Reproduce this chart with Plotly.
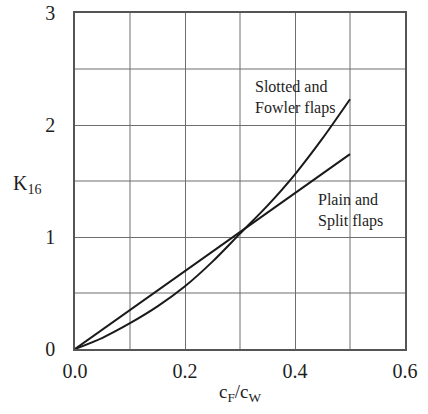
import plotly.graph_objects as go

x_plain = [0.0, 0.5]
y_plain = [0.0, 1.74]

x_slot = [0.0, 0.05, 0.1, 0.15, 0.2, 0.25, 0.3, 0.35, 0.4, 0.45, 0.5]
y_slot = [0.0, 0.1, 0.23, 0.38, 0.56, 0.78, 1.03, 1.28, 1.56, 1.88, 2.23]

x_ticks = [0.0, 0.2, 0.4, 0.6]
x_tick_text = ["0.0", "0.2", "0.4", "0.6"]
y_ticks = [0, 1, 2, 3]

FONT = "Liberation Serif, Times New Roman, serif"
TXT = "#1e1e1e"
GRID = "#6e6e6e"

fig = go.Figure()
fig.add_trace(go.Scatter(x=x_slot, y=y_slot, mode="lines",
                         line=dict(color="#1a1a1a", width=2, shape="spline", smoothing=0.8),
                         showlegend=False, hoverinfo="skip"))
fig.add_trace(go.Scatter(x=x_plain, y=y_plain, mode="lines",
                         line=dict(color="#1a1a1a", width=2),
                         showlegend=False, hoverinfo="skip"))

fig.add_annotation(x=0.4, y=2.25, text="Slotted and<br>Fowler flaps",
                   showarrow=False, xanchor="center", yanchor="middle", align="left",
                   font=dict(family=FONT, size=16, color=TXT))
fig.add_annotation(x=0.5, y=1.24, text="Plain and<br>Split flaps",
                   showarrow=False, xanchor="center", yanchor="middle", align="left",
                   font=dict(family=FONT, size=16, color=TXT))
fig.add_annotation(xref="paper", yref="y", x=-0.145, y=1.47,
                   text="K<sub>16</sub>", showarrow=False,
                   xanchor="center", yanchor="middle",
                   font=dict(family=FONT, size=20, color=TXT))
fig.add_annotation(xref="x", yref="paper", x=0.3, y=-0.131,
                   text="c<sub>F</sub>/c<sub>W</sub>", showarrow=False,
                   xanchor="center", yanchor="middle",
                   font=dict(family=FONT, size=19, color=TXT))

fig.update_xaxes(range=[0, 0.6], tickvals=x_ticks, ticktext=x_tick_text,
                 showgrid=True, gridcolor=GRID, gridwidth=1,
                 showline=True, linecolor="#555", linewidth=1.5, mirror=True,
                 ticks="outside", ticklen=3, tickcolor="rgba(0,0,0,0)",
                 zeroline=False, automargin=False, ticklabeloverflow="allow",
                 tickfont=dict(family=FONT, size=20, color=TXT))
fig.update_yaxes(range=[0, 3], tickvals=y_ticks,
                 showgrid=True, gridcolor=GRID, gridwidth=1,
                 showline=True, linecolor="#555", linewidth=1.5, mirror=True,
                 ticks="outside", ticklen=14, tickcolor="rgba(0,0,0,0)",
                 zeroline=False, automargin=False, ticklabeloverflow="allow",
                 tickfont=dict(family=FONT, size=20, color=TXT))

# intermediate grid lines at 0.1 and 0.5 spacing
for gx in [0.1, 0.3, 0.5]:
    fig.add_shape(type="line", x0=gx, x1=gx, y0=0, y1=3, xref="x", yref="y",
                  line=dict(color=GRID, width=1), layer="below")
for gy in [0.5, 1.5, 2.5]:
    fig.add_shape(type="line", x0=0, x1=0.6, y0=gy, y1=gy, xref="x", yref="y",
                  line=dict(color=GRID, width=1), layer="below")

fig.update_layout(width=428, height=414,
                  margin=dict(l=75, r=23, t=13, b=65),
                  plot_bgcolor="white", paper_bgcolor="white")

# remove the default page margin so the figure fills the window exactly
fig.write_html("out.html",
               config={"displayModeBar": False},
               post_script="document.body.style.margin='0px';document.body.style.overflow='hidden';")
